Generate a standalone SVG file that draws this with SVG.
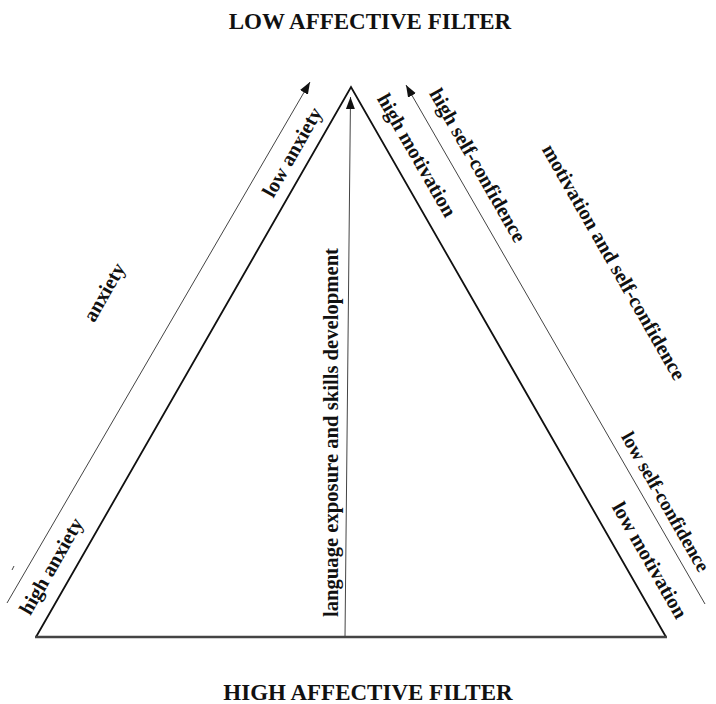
<svg xmlns="http://www.w3.org/2000/svg" width="716" height="704" viewBox="0 0 716 704">
<style>
.t{font-family:"Liberation Serif","Times New Roman",serif;font-weight:bold;fill:#111;}
.lbl{font-size:20.5px;text-anchor:middle;}
.title{font-size:23px;text-anchor:middle;}
.side{fill:none;stroke:#111;stroke-width:1.8;}
.arr{fill:none;stroke:#444;stroke-width:1;}
</style>
<defs>
<marker id="ah" markerUnits="userSpaceOnUse" markerWidth="13" markerHeight="10" refX="12" refY="4.5" orient="auto">
<path d="M0,0 L12,4.5 L0,9 z" fill="#111"/>
</marker>
</defs>
<rect width="716" height="704" fill="#fff"/>
<g id="triangle">
<path class="side" d="M36,637 L351,87 L666,637"/>
<line x1="35" y1="637" x2="667" y2="637" stroke="#444" stroke-width="2.5"/>
</g>
<g id="connectors">
<line class="arr" x1="7" y1="603" x2="310" y2="82" marker-end="url(#ah)"/>
<line class="arr" x1="12" y1="570" x2="14" y2="566" stroke="#999"/>
<line class="arr" x1="345" y1="637" x2="350.5" y2="97" marker-end="url(#ah)"/>
<line class="arr" x1="705" y1="604" x2="406" y2="85" marker-end="url(#ah)"/>
</g>
<g id="title-low"><text class="t title" x="370" y="29">LOW AFFECTIVE FILTER</text></g>
<g id="title-high"><text class="t title" x="368" y="700">HIGH AFFECTIVE FILTER</text></g>
<g id="label-low-anxiety"><text class="t lbl" transform="translate(292,152) rotate(-60.2)" y="7">low anxiety</text></g>
<g id="label-anxiety"><text class="t lbl" transform="translate(104,292) rotate(-60.2)" y="7">anxiety</text></g>
<g id="label-high-anxiety"><text class="t lbl" transform="translate(51,566) rotate(-60.2)" y="7">high anxiety</text></g>
<g id="label-language"><text class="t lbl" transform="translate(338,432.5) rotate(-90)" y="0" textLength="369" lengthAdjust="spacingAndGlyphs">language exposure and skills development</text></g>
<g id="label-high-motivation"><text class="t lbl" transform="translate(417,155) rotate(60.2)" y="7">high motivation</text></g>
<g id="label-high-self-confidence"><text class="t lbl" transform="translate(478,165) rotate(60.2)" y="7">high self-confidence</text></g>
<g id="label-motivation-self-confidence"><text class="t lbl" transform="translate(614,262) rotate(60.2)" y="7">motivation and self-confidence</text></g>
<g id="label-low-self-confidence"><text class="t lbl" style="font-size:19.5px" transform="translate(665,502) rotate(60.2)" y="6">low self-confidence</text></g>
<g id="label-low-motivation"><text class="t lbl" transform="translate(650,560) rotate(60.2)" y="7">low motivation</text></g>
</svg>
